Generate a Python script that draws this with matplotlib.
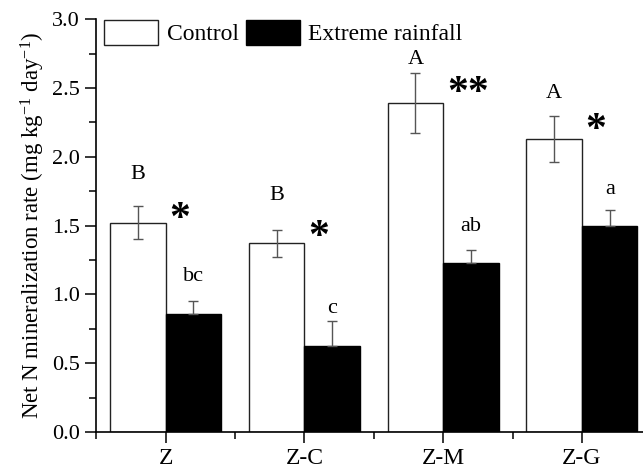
import matplotlib
matplotlib.use('Agg')
import matplotlib.pyplot as plt
from matplotlib.ticker import MultipleLocator, FixedLocator
from matplotlib.patches import Patch

# Data
sites = ['Z', 'Z-C', 'Z-M', 'Z-G']
control = [1.52, 1.37, 2.39, 2.13]
control_err = [0.12, 0.10, 0.22, 0.17]
extreme = [0.86, 0.625, 1.23, 1.50]
extreme_err = [0.09, 0.18, 0.095, 0.11]
control_letters = ['B', 'B', 'A', 'A']
extreme_letters = ['bc', 'c', 'ab', 'a']
stars = ['*', '*', '**', '*']

# where the annotations sit (value units)
control_letter_y = [1.87, 1.72, 2.71, 2.46]
extreme_letter_y = [1.13, 0.90, 1.49, 1.76]
star_y = [1.60, 1.47, 2.52, 2.25]

plt.rcParams['font.family'] = ['Liberation Serif', 'DejaVu Serif']
plt.rcParams['mathtext.fontset'] = 'custom'
plt.rcParams['mathtext.rm'] = 'Liberation Serif'
plt.rcParams['mathtext.it'] = 'Liberation Serif:italic'

fig = plt.figure(figsize=(6.43, 4.68), dpi=100)
ax = fig.add_axes([0.1495, 0.077, 0.8505, 0.882])

x = list(range(len(sites)))
w = 0.4
xc = [i - w / 2 for i in x]
xe = [i + w / 2 for i in x]

ax.bar(xc, control, width=w, color='white', edgecolor='#222222', linewidth=1.0)
ax.bar(xe, extreme, width=w, color='black', edgecolor='black', linewidth=1.0)

# error bars: both sides for control, only upward for extreme rainfall
ax.errorbar(xc, control, yerr=control_err, fmt='none', ecolor='#555555',
            elinewidth=1.0, capsize=3.5, capthick=1.0)
ax.errorbar(xe, extreme, yerr=[[0] * 4, extreme_err], fmt='none', ecolor='#555555',
            elinewidth=1.0, capsize=3.5, capthick=1.0)

# letters and asterisks
for i in x:
    ax.text(xc[i], control_letter_y[i], control_letters[i], ha='center', va='center', fontsize=16)
    ax.text(xe[i], extreme_letter_y[i], extreme_letters[i], ha='center', va='center', fontsize=16)
    sx = xc[i] + w / 2 + 0.1 + (0.08 if stars[i] == '**' else 0)
    ax.text(sx, star_y[i] - 0.2, stars[i], ha='center', va='bottom', fontsize=30, fontweight='bold')

ax.set_xlim(-0.5, 3.44)
ax.set_ylim(0, 3.0)
ax.set_xticks(x)
ax.set_xticklabels(sites, fontsize=17)
ax.xaxis.set_minor_locator(FixedLocator([-0.5, 0.5, 1.5, 2.5]))
ax.yaxis.set_major_locator(MultipleLocator(0.5))
ax.yaxis.set_minor_locator(MultipleLocator(0.25))
ax.yaxis.set_major_formatter(matplotlib.ticker.FormatStrFormatter('%.1f'))
ax.tick_params(axis='y', labelsize=16)
ax.tick_params(which='major', direction='out', length=8, width=1.1)
ax.tick_params(which='minor', direction='out', length=5, width=1.1)

for s in ['top', 'right']:
    ax.spines[s].set_visible(False)
for s in ['left', 'bottom']:
    ax.spines[s].set_linewidth(1.2)

ax.set_ylabel('Net N mineralization rate (mg kg$^{-1}$ day$^{-1}$)', fontsize=16.5, labelpad=4)

handles = [Patch(facecolor='white', edgecolor='#222222', linewidth=1.0, label='Control'),
           Patch(facecolor='black', edgecolor='black', label='Extreme rainfall')]
ax.legend(handles=handles, loc='upper left', ncol=2, frameon=False, fontsize=17,
          handlelength=2.3, handleheight=1.2, handletextpad=0.35, columnspacing=0.3,
          borderaxespad=0.0, bbox_to_anchor=(-0.003, 1.02))

fig.savefig('out.png', dpi=100)
